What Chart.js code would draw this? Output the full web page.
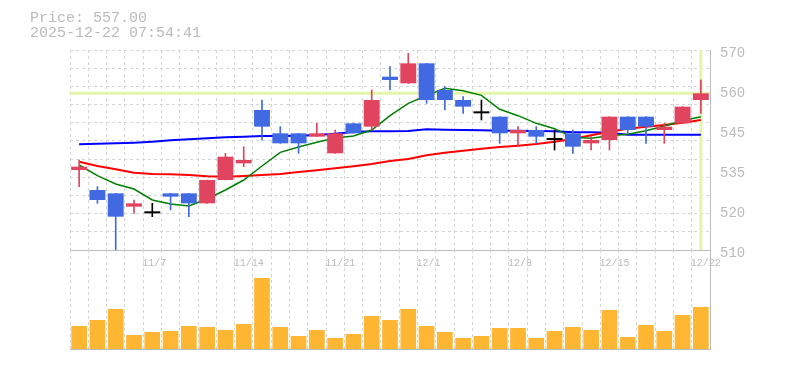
<!DOCTYPE html>
<html>
<head>
<meta charset="utf-8">
<script src="https://cdn.jsdelivr.net/npm/chart.js@4/dist/chart.umd.min.js"></script>
<style>
  html, body { margin: 0; padding: 0; background: #fff; }
  #wrap { position: relative; width: 785px; height: 370px; overflow: hidden; }
  canvas { position: absolute; left: 0; top: 0; }
  #title { position: absolute; left: 30px; top: 11px; font-family: 'Liberation Mono', monospace; font-size: 15px; line-height: 15px; color: #bbb; white-space: pre; z-index: 5; }
</style>
</head>
<body>
<div id="wrap">
  <canvas id="price" width="785" height="370"></canvas>
  <canvas id="vol" width="785" height="370"></canvas>
  <div id="title"></div>
</div>
<script>
// ---- data ----
const dates = ['10/31','11/4','11/5','11/6','11/7','11/10','11/11','11/12','11/13','11/14',
  '11/17','11/18','11/19','11/20','11/21','11/25','11/26','11/27','11/28','12/1',
  '12/2','12/3','12/4','12/5','12/8','12/9','12/10','12/11','12/12','12/15',
  '12/16','12/17','12/18','12/19','12/22'];
const xTickLabels = ['11/7','11/14','11/21','12/1','12/8','12/15','12/22'];
const yTickLabels = ['510','520','535','545','560','570'];

const openP  = [534,528,527,523,521,527,527,524,531,536,552,545,545,544,539,548,547,562,560,566,558,555,551,550,545,546,543,545,542,543,550,550,546,548,555];
const closeP = [535,525,520,524,521,526,524,531,538,537,547,542,542,545,545,545,555,561,566,555,555,553,551,545,546,544,543,541,543,550,546,547,547,553,557];
const highP  = [537,529,527,525,524,527,527,531,539,541,555,547,545,548,546,548,558,565,569,566,559,556,555,550,547,547,546,546,544,550,550,550,548,553,561];
const lowP   = [529,524,510,521,520,522,520,524,531,535,543,542,539,544,539,545,546,558,560,554,552,551,549,542,541,542,540,539,540,540,545,542,542,548,551];

const ma5  = [535.5,532.3,529.8,528.3,525.0,523.8,523.2,525.3,528.0,531.0,535.2,539.3,540.9,542.3,543.6,544.2,546.0,550.3,554.0,556.3,558.5,557.8,556.4,552.2,550.3,548.0,546.4,543.8,543.5,544.3,544.7,545.8,547.2,548.8,550.0];
const ma25 = [536.5,535.2,534.2,533.2,532.8,532.7,532.5,532.1,532.0,532.2,532.5,532.8,533.4,533.9,534.5,535.1,535.8,536.7,537.3,538.4,539.2,539.8,540.4,540.9,541.3,541.8,542.5,543.3,544.4,545.5,546.4,547.0,547.5,548.2,549.0];
const ma75 = [541.7,541.9,542.0,542.2,542.5,542.9,543.2,543.5,543.8,544.0,544.2,544.2,544.3,544.5,544.9,545.4,545.6,545.6,545.7,546.2,546.1,546.0,545.9,545.8,545.8,545.7,545.6,545.3,545.3,545.2,544.6,544.6,544.6,544.6,544.6];

const volume = [23000,29000,40000,14000,17000,18000,23000,22000,19000,25000,
  71000,22000,13000,19000,11000,15000,33000,29000,40000,23000,
  17000,11000,13000,21000,21000,11000,18000,22000,19000,39000,
  12000,24000,18000,34000,42000];

const currentPrice = 557;
const timestamp = '2025-12-22 07:54:41';

// ---- styles ----
const UP = '#e0445f', DOWN = '#4169e1', DOJI = '#000000';
const GRID = '#d6d6d6', AXIS = '#bbbbbb', TXT = '#bbbbbb';
const MONO = "'Liberation Mono', 'DejaVu Sans Mono', monospace";

document.getElementById('title').textContent = 'Price: ' + currentPrice.toFixed(2) + '\n' + timestamp;

const candleColor = openP.map((o, i) => closeP[i] > o ? UP : (closeP[i] < o ? DOWN : DOJI));
const bodies = openP.map((o, i) => [o, closeP[i]]);
const wicks = lowP.map((l, i) => [l, highP[i]]);

const markerPlugin = {
  id: 'marker',
  beforeDatasetsDraw(chart) {
    const {ctx, chartArea, scales} = chart;
    const y = scales.y.getPixelForValue(currentPrice);
    const x = scales.x.getPixelForValue(dates.length - 1);
    ctx.save();
    ctx.strokeStyle = '#e3f5a8';
    ctx.lineWidth = 3;
    ctx.beginPath();
    ctx.moveTo(chartArea.left, y); ctx.lineTo(chartArea.right, y);
    ctx.moveTo(x, chartArea.top); ctx.lineTo(x, chartArea.bottom);
    ctx.stroke();
    ctx.restore();
  }
};

new Chart(document.getElementById('price'), {
  type: 'bar',
  data: {
    labels: dates,
    datasets: [
      { type: 'bar', data: bodies, backgroundColor: candleColor, barPercentage: 0.87, categoryPercentage: 1, grouped: false, minBarLength: 2, order: 0 },
      { type: 'bar', data: wicks, backgroundColor: candleColor, barThickness: 1, grouped: false, order: 1 },
      { type: 'line', data: ma5, borderColor: '#008000', borderWidth: 1.5, pointRadius: 0, tension: 0, order: 2 },
      { type: 'line', data: ma25, borderColor: '#ff0000', borderWidth: 2, pointRadius: 0, tension: 0, order: 3 },
      { type: 'line', data: ma75, borderColor: '#0000ff', borderWidth: 2, pointRadius: 0, tension: 0, order: 4 }
    ]
  },
  options: {
    responsive: false, animation: false, devicePixelRatio: 1,
    layout: { padding: { left: 70, top: 50, right: 0, bottom: 100 } },
    plugins: { legend: { display: false }, tooltip: { enabled: false }, title: { display: false } },
    scales: {
      x: {
        type: 'category', offset: true,
        grid: { offset: true, color: GRID, drawTicks: false },
        border: { color: AXIS, dash: [3, 3] },
        ticks: {
          autoSkip: false, maxRotation: 0, minRotation: 0, align: 'start', labelOffset: -10, padding: 7,
          color: TXT, font: { family: MONO, size: 10 },
          callback: (v, i) => xTickLabels.includes(dates[i]) ? dates[i] : ''
        },
        afterFit: s => { s.height = 20; }
      },
      y: {
        position: 'right', min: 510, max: 570,
        grid: { display: false, drawTicks: false },
        border: { color: AXIS },
        ticks: { stepSize: 12, padding: 10, labelOffset: 3, color: TXT, font: { family: MONO, size: 14 },
          callback: (v, i) => yTickLabels[i] },
        afterFit: s => { s.width = 75; }
      },
      yGrid: {
        type: 'linear', position: 'left', min: 0, max: 11,
        grid: { color: GRID, drawTicks: false },
        border: { display: false, dash: [3, 3] },
        ticks: { display: false, stepSize: 1 },
        afterFit: s => { s.width = 0; }
      }
    }
  },
  plugins: [markerPlugin]
});

new Chart(document.getElementById('vol'), {
  type: 'bar',
  data: {
    labels: dates,
    datasets: [
      { data: volume, backgroundColor: '#ffb733', barPercentage: 0.86, categoryPercentage: 1 }
    ]
  },
  options: {
    responsive: false, animation: false, devicePixelRatio: 1,
    layout: { padding: { left: 70, top: 250, right: 0, bottom: 0 } },
    plugins: { legend: { display: false }, tooltip: { enabled: false } },
    scales: {
      x: {
        type: 'category', offset: true,
        grid: { offset: true, color: GRID, drawTicks: false },
        border: { color: AXIS, dash: [3, 3] },
        ticks: { display: false },
        afterFit: s => { s.height = 21; }
      },
      y: {
        position: 'right', min: 0, max: 99000,
        grid: { display: false, drawTicks: false },
        border: { color: AXIS },
        ticks: { display: false },
        afterFit: s => { s.width = 75; }
      }
    }
  }
});
</script>
</body>
</html>
